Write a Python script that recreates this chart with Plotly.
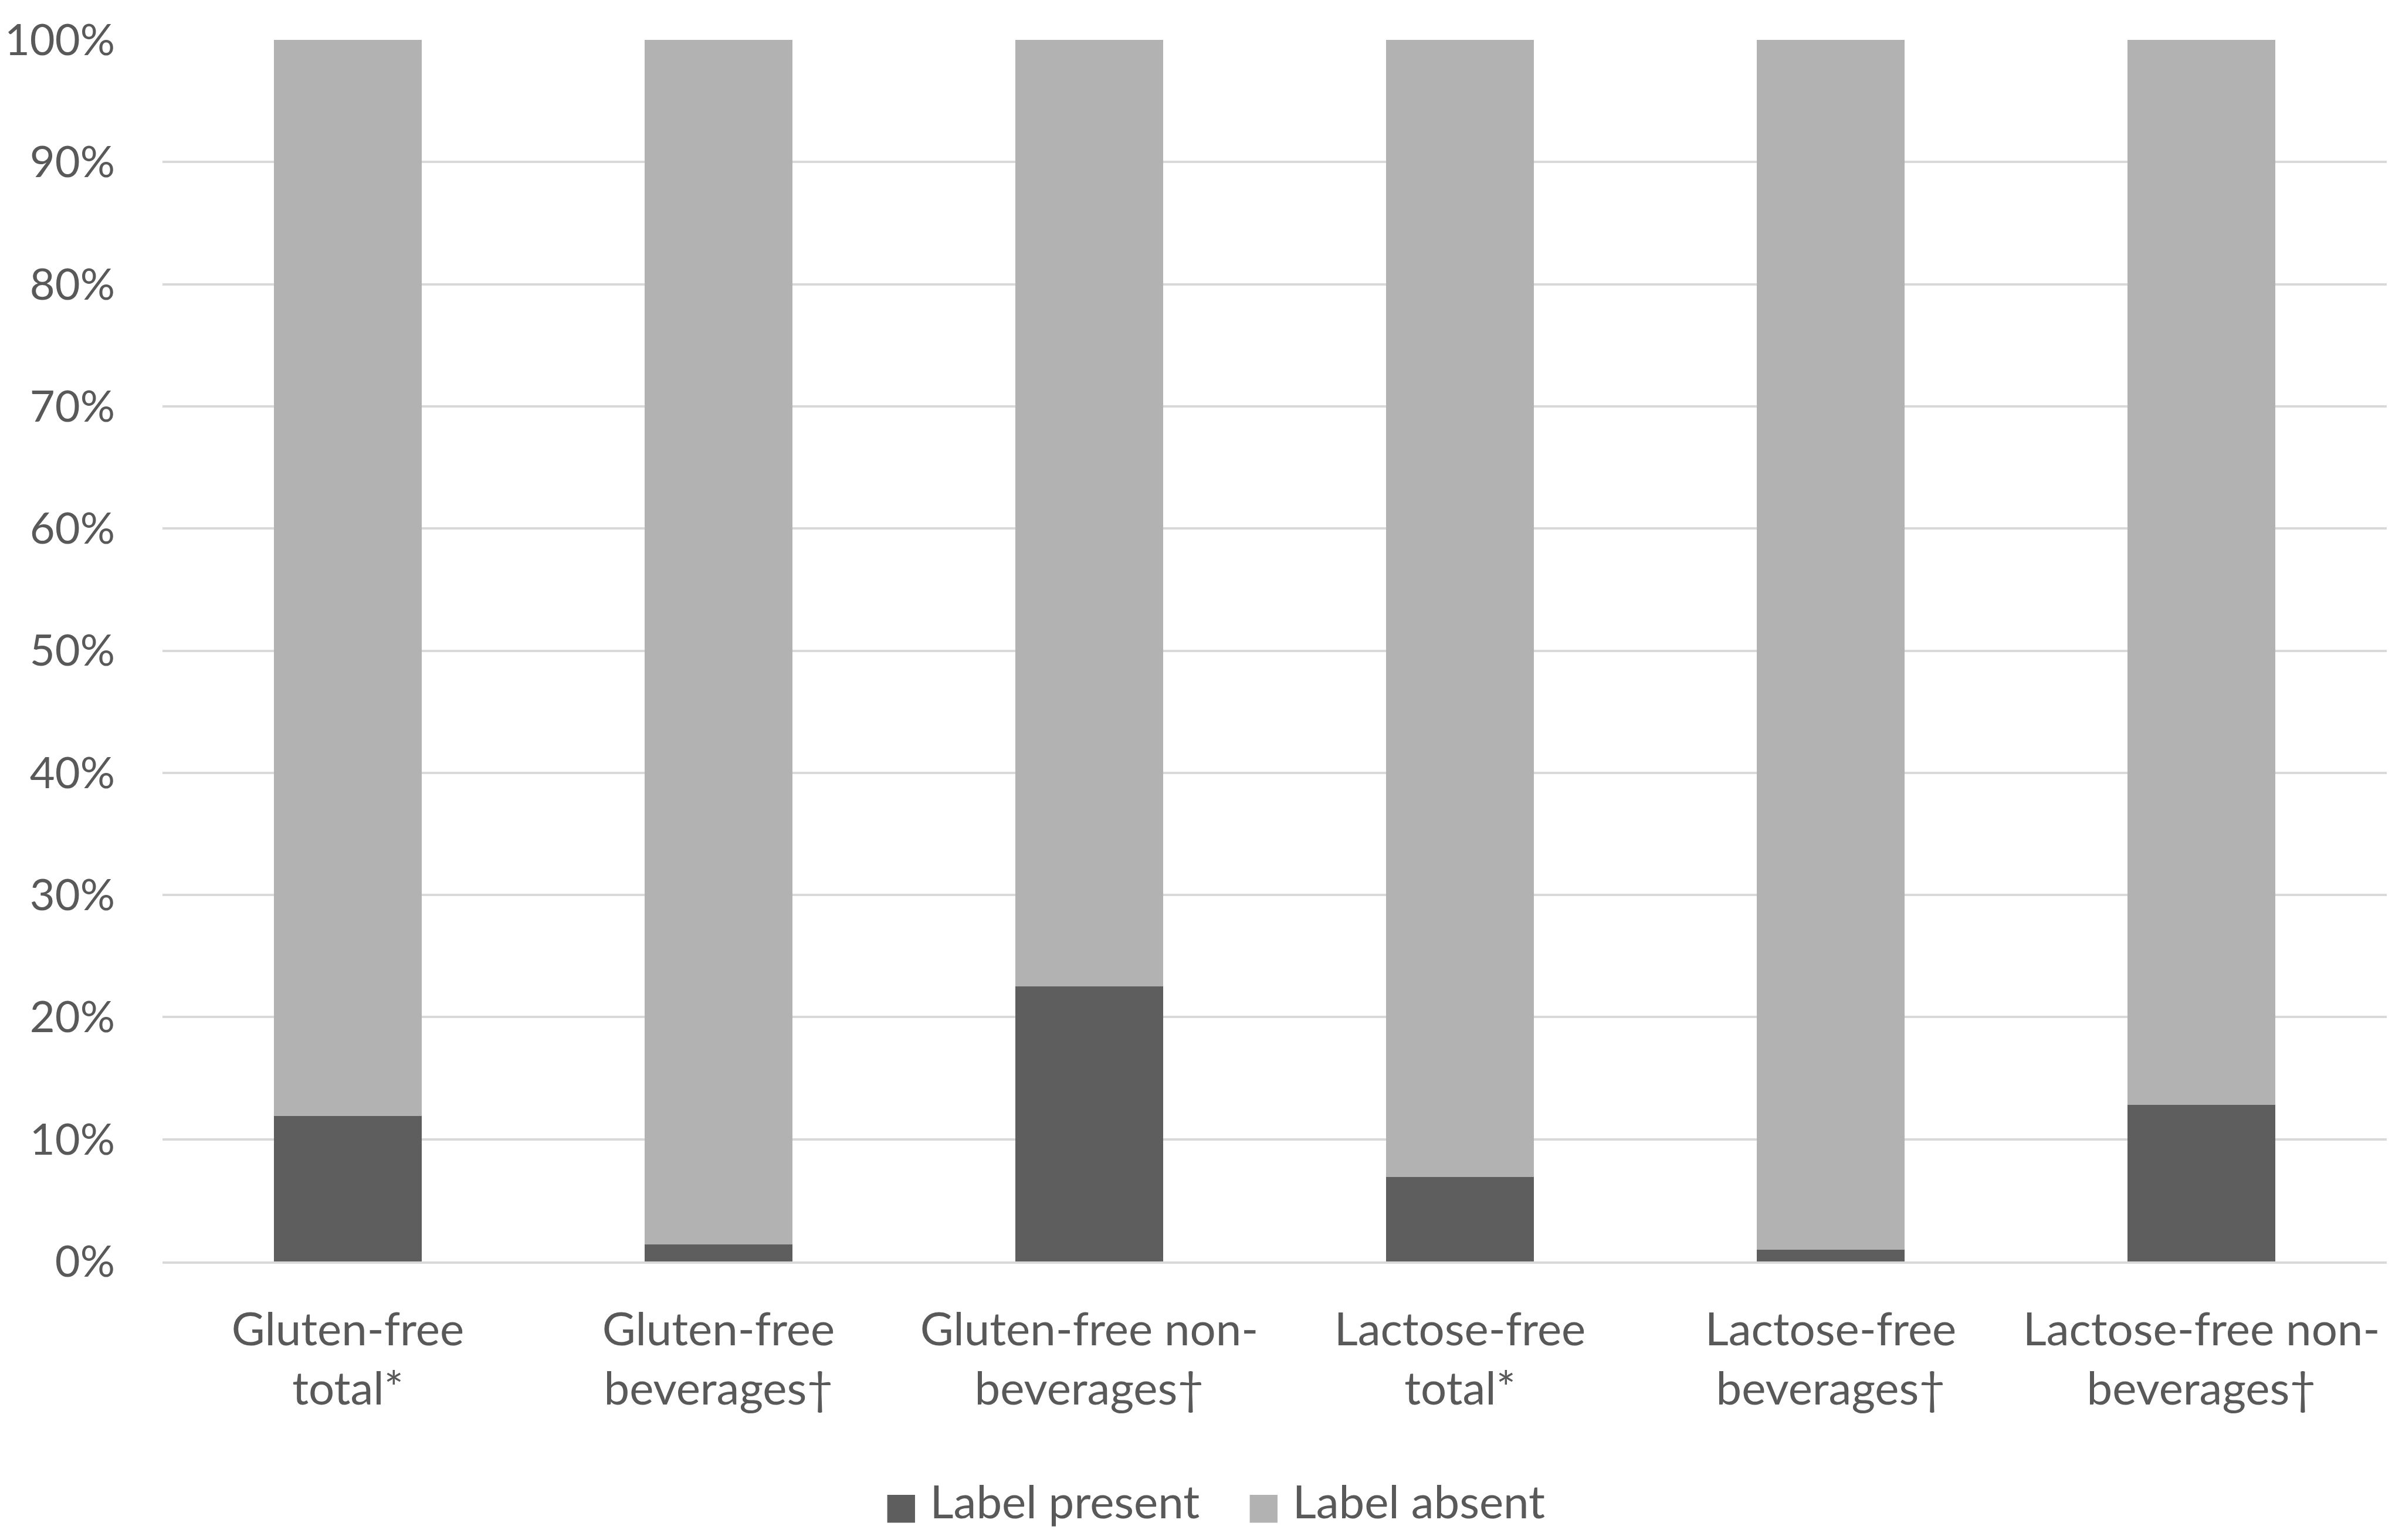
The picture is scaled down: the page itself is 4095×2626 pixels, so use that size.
import plotly.graph_objects as go

categories = [
    "Gluten-free<br>total*",
    "Gluten-free<br>beverages†",
    "Gluten-free non-<br>beverages†",
    "Lactose-free<br>total*",
    "Lactose-free<br>beverages†",
    "Lactose-free non-<br>beverages†",
]
label_present = [11.9, 1.4, 22.5, 6.9, 0.95, 12.8]
label_absent = [100 - v for v in label_present]

tick_vals = [0, 10, 20, 30, 40, 50, 60, 70, 80, 90, 100]
tick_text = [f"{v}%" for v in tick_vals]

series_names = ["Label present", "Label absent"]
series_colors = ["#5e5e5e", "#b2b2b2"]

font_family = "Lato, Open Sans, sans-serif"
text_color = "#595959"

fig = go.Figure()
for name, vals, col in zip(series_names, [label_present, label_absent], series_colors):
    fig.add_trace(go.Bar(x=categories, y=vals, name=name,
                         marker=dict(color=col, line=dict(width=0))))

# plotly's bar legend swatches stay tiny at this size, so build the legend as text
sq = '<span style="font-family:DejaVu Sans;font-size:62px;color:{}">■</span>'
gap = "\u00a0" * 4
legend_text = (sq.format(series_colors[0]) + "\u00a0" + series_names[0] + gap
               + sq.format(series_colors[1]) + "\u00a0" + series_names[1])
fig.add_annotation(text=legend_text, xref="paper", yref="paper",
                   x=0.473, y=-0.196, xanchor="center", yanchor="middle",
                   showarrow=False, font=dict(size=78, color=text_color))

fig.update_layout(
    barmode="stack",
    bargap=0.6,
    width=4095,
    height=2626,
    margin=dict(l=269, r=34, t=60, b=483),
    plot_bgcolor="white",
    paper_bgcolor="white",
    font=dict(family=font_family, size=78, color=text_color),
    showlegend=False,
)

fig.update_yaxes(
    range=[0, 100],
    tickvals=tick_vals,
    ticktext=tick_text,
    tickfont=dict(size=74),
    showgrid=True,
    gridcolor="#d9d9d9",
    gridwidth=4,
    zeroline=False,
    ticks="",
    ticklabelstandoff=80,
    showline=False,
    automargin=False,
)
fig.update_xaxes(
    showline=True,
    linecolor="#d9d9d9",
    linewidth=4,
    ticks="",
    ticklabelstandoff=45,
    tickangle=0,
    automargin=False,
)

fig.write_html("out.html")
